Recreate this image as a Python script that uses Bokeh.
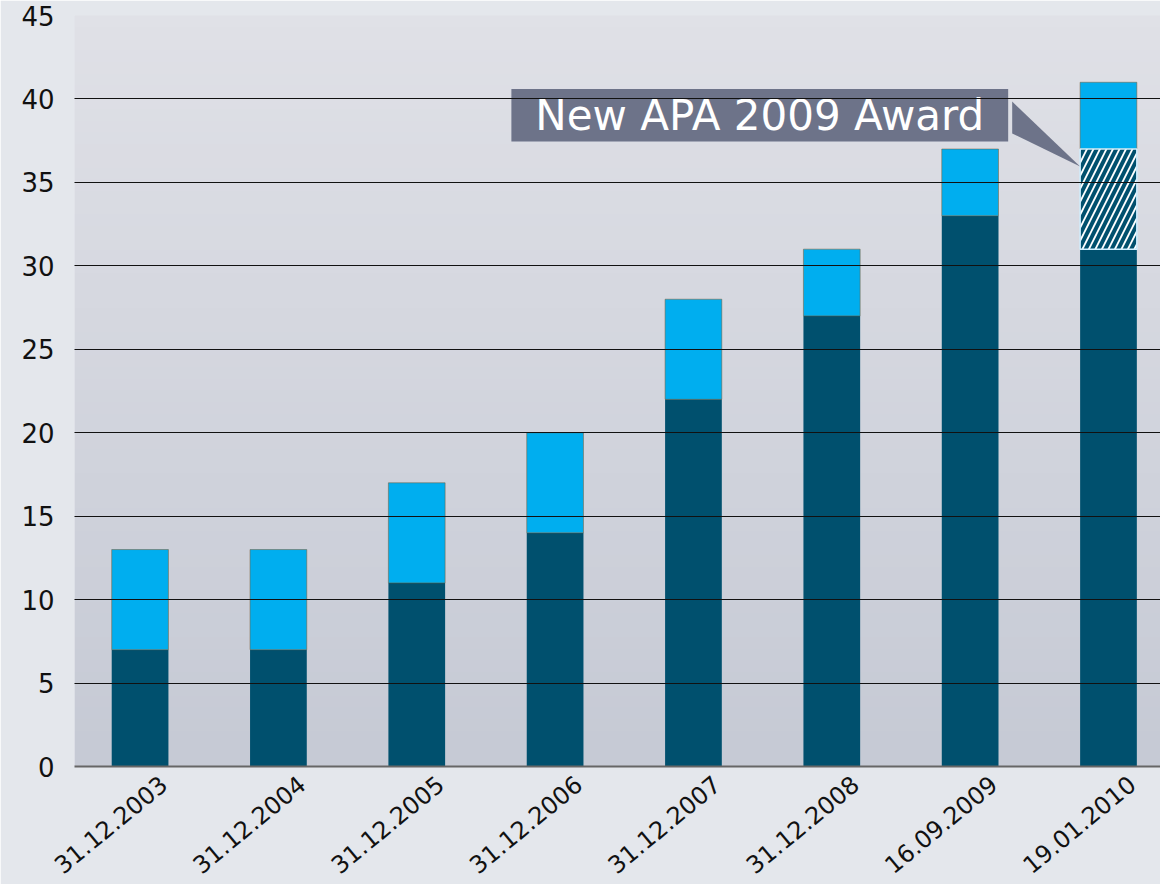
import numpy as np
from bokeh.plotting import figure
from bokeh.models import Range1d, FixedTicker, ColumnDataSource
from bokeh.embed import file_html
from bokeh.resources import INLINE
from bokeh.core.properties import value

categories = ["31.12.2003", "31.12.2004", "31.12.2005", "31.12.2006",
              "31.12.2007", "31.12.2008", "16.09.2009", "19.01.2010"]
base_values = [7, 7, 11, 14, 22, 27, 33, 31]
new_award_values = [0, 0, 0, 0, 0, 0, 0, 6]
top_values = [6, 6, 6, 6, 6, 4, 4, 4]
y_ticks = [0, 5, 10, 15, 20, 25, 30, 35, 40, 45]
annotation_text = "New APA 2009 Award"

DARK = "#00506e"
LIGHT = "#00aeef"
FONT = "DejaVu Sans"

xs = list(range(len(categories)))
b0 = [0] * len(xs)
b1 = base_values
b2 = [a + b for a, b in zip(base_values, new_award_values)]
b3 = [a + b for a, b in zip(b2, top_values)]

X0, X1 = -0.474, 7.376
LABEL_SHIFT = 0.17  # slant labels sit a little right of the bar centres
p = figure(width=1160, height=884, output_backend="svg", toolbar_location=None,
           x_range=Range1d(X0 - LABEL_SHIFT, X1 - LABEL_SHIFT), y_range=Range1d(0, 45),
           min_border_left=74, min_border_right=0, min_border_top=15, min_border_bottom=118)
p.extra_x_ranges = {"bars": Range1d(X0, X1)}
p.background_fill_color = "#d6d9e1"
p.border_fill_color = "#e4e7ec"
p.outline_line_color = None

# vertical background gradient of the plotting area (decoration)
n = 64
t = np.linspace(0, 1, n)[:, None]
top_c = np.array([224, 225, 231])
bot_c = np.array([198, 202, 213])
cols = (bot_c * (1 - t) + top_c * t).astype(np.uint32)
img = np.zeros((n, 1), dtype=np.uint32)
view = img.view(dtype=np.uint8).reshape((n, 1, 4))
view[:, 0, 0] = cols[:, 0]
view[:, 0, 1] = cols[:, 1]
view[:, 0, 2] = cols[:, 2]
view[:, 0, 3] = 255
p.image_rgba(image=[img], x=X0, y=0, dw=X1 - X0, dh=45, level="image", x_range_name="bars")

W = 0.41
src = ColumnDataSource(dict(x=xs, b0=b0, b1=b1, b2=b2, b3=b3))
p.vbar(x="x", bottom="b0", top="b1", width=W, source=src, fill_color=DARK, line_color=None,
       x_range_name="bars")
p.vbar(x="x", bottom="b2", top="b3", width=W, source=src, fill_color=LIGHT,
       line_color="#7a5a30", line_width=1, line_alpha=0.5, x_range_name="bars")
hx = [x for x, v in zip(xs, new_award_values) if v > 0]
hb = [b for b, v in zip(b1, new_award_values) if v > 0]
ht = [t for t, v in zip(b2, new_award_values) if v > 0]
p.vbar(x=hx, bottom=hb, top=ht, width=W, fill_color=DARK, line_color="#cfefff",
       line_width=1.5, hatch_pattern="/", hatch_color="white", hatch_scale=13, hatch_weight=1.8,
       x_range_name="bars")

# annotation callout
bx0, bx1, by0, by1 = 2.684, 6.275, 37.45, 40.6
p.quad(left=[bx0], right=[bx1], bottom=[by0], top=[by1], fill_color="#6d7389", line_color=None,
       x_range_name="bars")
p.patch(x=[6.304, 6.304, hx[0] - W / 2], y=[39.84, 37.93, 35.95], fill_color="#6d7389",
        line_color=None, x_range_name="bars")
p.text(x=[(bx0 + bx1) / 2], y=[(by0 + by1) / 2], text=[annotation_text],
       text_font=value(FONT), text_font_size="42px", text_color="white",
       text_align="center", text_baseline="middle", x_range_name="bars")

p.xgrid.grid_line_color = None
p.ygrid.ticker = FixedTicker(ticks=y_ticks)
p.ygrid.grid_line_color = "#111111"
p.ygrid.grid_line_width = 1
p.ygrid.level = "annotation"

p.yaxis.ticker = FixedTicker(ticks=y_ticks)
p.yaxis.axis_line_color = None
p.yaxis.major_tick_line_color = None
p.yaxis.minor_tick_line_color = None
p.yaxis.major_label_text_font = FONT
p.yaxis.major_label_text_font_size = "26px"
p.yaxis.major_label_text_color = "#111111"
p.yaxis.major_label_standoff = 14

p.xaxis.ticker = FixedTicker(ticks=xs)
p.xaxis.major_label_overrides = {i: c for i, c in enumerate(categories)}
p.xaxis.axis_line_color = "#666666"
p.xaxis.axis_line_width = 2
p.xaxis.major_tick_line_color = None
p.xaxis.minor_tick_line_color = None
p.xaxis.major_label_orientation = 0.69
p.xaxis.major_label_text_font = FONT
p.xaxis.major_label_text_font_size = "24px"
p.xaxis.major_label_text_color = "#111111"
p.xaxis.major_label_standoff = 8

open("out.html", "w").write(file_html(p, INLINE))
